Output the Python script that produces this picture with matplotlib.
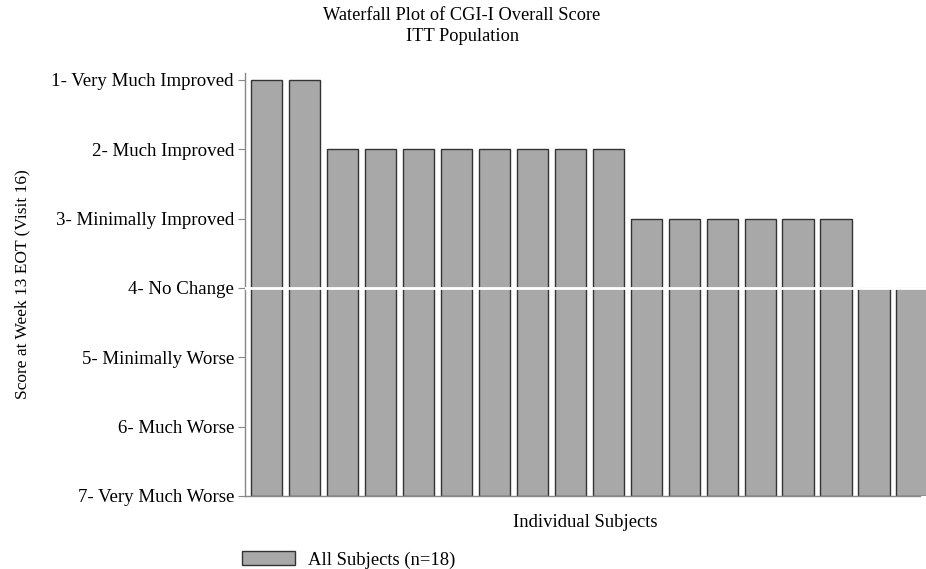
import matplotlib.pyplot as plt
from matplotlib.patches import Patch

# CGI-I score per subject (1 = very much improved, 7 = very much worse)
subjects = list(range(1, 19))
scores = [1, 1, 2, 2, 2, 2, 2, 2, 2, 2, 3, 3, 3, 3, 3, 3, 4, 4]
tick_labels = ['1- Very Much Improved', '2- Much Improved', '3- Minimally Improved',
               '4- No Change', '5- Minimally Worse', '6- Much Worse', '7- Very Much Worse']
baseline = 7

plt.rcParams['font.family'] = ['Liberation Serif', 'DejaVu Serif']

fig = plt.figure(figsize=(9.26, 5.69), dpi=100)
ax = fig.add_axes([0.2646, 0.1283, 0.735, 0.7433])

heights = [s - baseline for s in scores]
ax.bar(subjects, heights, bottom=baseline, width=0.82, color='#a8a8a8',
       edgecolor='#333333', linewidth=1.0, zorder=2)
ax.axhline(4, color='white', linewidth=2, zorder=3)

ax.set_ylim(7, 0.9)
ax.set_xlim(1 - 0.566, 18 + 0.36)
ax.set_yticks(range(1, 8))
ax.set_yticklabels(tick_labels, fontsize=13.6)
ax.set_xticks([])
ax.tick_params(axis='y', direction='out', length=5, color='#888888', pad=3)

for side in ['top', 'right']:
    ax.spines[side].set_visible(False)
for side in ['left', 'bottom']:
    ax.spines[side].set_color('#888888')
    ax.spines[side].set_linewidth(1)
ax.spines['bottom'].set_bounds(1 - 0.566, 18 + 0.2)

ax.set_xlabel('Individual Subjects', fontsize=13.4, labelpad=13)
fig.text(0.024, 0.5, 'Score at Week 13 EOT (Visit 16)', rotation=90,
         ha='center', va='center', fontsize=12.5)

fig.text(0.499, 0.972, 'Waterfall Plot of CGI-I Overall Score', ha='center', va='center', fontsize=13.2)
fig.text(0.499, 0.935, 'ITT Population', ha='center', va='center', fontsize=13.2)

handle = Patch(facecolor='#a8a8a8', edgecolor='#333333', linewidth=1)
fig.legend([handle], ['All Subjects (n=18)'], loc='center left',
           bbox_to_anchor=(0.2435, 0.016), frameon=False, fontsize=13.4,
           handlelength=2.85, handleheight=0.75, handletextpad=0.7)

fig.savefig('out.png', dpi=100)
